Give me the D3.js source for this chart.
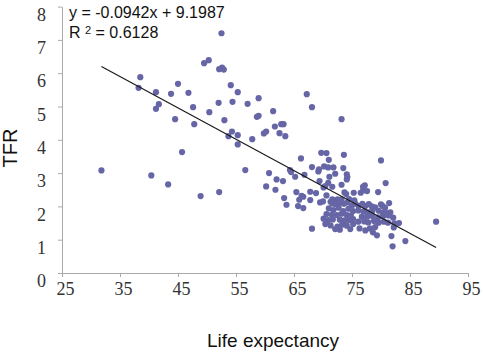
<!DOCTYPE html>
<html>
<head>
<meta charset="utf-8">
<script src="https://cdn.jsdelivr.net/npm/d3@7"></script>
<style>
	body { margin: 0; background: #fff; }
	.tick-label { font-family: "Liberation Serif", "DejaVu Serif", serif; font-size: 18px; fill: #333; }
	.title { font-family: "Liberation Sans", Arial, sans-serif; fill: #111; }
</style>
</head>
<body>
<div id="chart"></div>
<script>
// ---------- DATA ----------
const lifeExpectancy = [
	31.8, 38.2, 38.5, 40.4, 41.2, 41.2, 41.7, 43.8, 45.0, 44.5,
	43.3, 45.7, 46.8, 47.6, 47.8, 48.9, 49.5, 50.3, 50.4, 52.0,
	52.1, 52.5, 52.1, 52.6, 52.9, 53.0, 54.1, 54.4, 55.3, 54.3,
	53.7, 55.3, 55.3, 56.6, 57.0, 58.9, 58.6, 58.9, 57.8, 59.8,
	60.2, 61.4, 61.7, 62.8, 63.2, 62.5, 63.5, 66.2, 67.2, 68.1,
	73.2, 69.7, 70.6, 73.6, 71.0, 80.0, 68.1, 69.3, 69.2, 70.2,
	70.9, 71.8, 73.5, 64.3, 64.5, 60.7, 66.8, 65.2, 71.1, 72.1,
	74.1, 74.2, 74.1, 62.0, 63.1, 69.4, 70.9, 80.8, 60.2, 61.8,
	65.4, 67.8, 70.1, 70.4, 71.6, 73.2, 76.9, 77.2, 75.3, 76.5,
	76.9, 77.6, 79.5, 68.8, 73.7, 74.0, 66.6, 70.6, 72.5, 73.2,
	63.3, 63.7, 65.9, 66.3, 67.8, 65.7, 66.6, 69.5, 70.0, 71.3,
	71.6, 72.1, 72.9, 73.6, 74.2, 75.0, 75.6, 76.1, 76.8, 77.3,
	77.9, 78.4, 79.0, 80.0, 80.3, 80.7, 81.4, 71.0, 71.8, 72.7,
	73.5, 74.4, 75.2, 76.1, 77.0, 77.8, 78.5, 79.6, 80.3, 81.0,
	81.6, 70.6, 71.5, 72.4, 73.2, 74.1, 74.8, 76.7, 77.6, 78.5,
	79.5, 80.4, 81.3, 82.1, 70.1, 70.9, 71.7, 72.9, 73.7, 74.5,
	75.2, 76.1, 77.1, 77.8, 78.8, 79.6, 80.5, 81.2, 82.3, 83.1,
	70.4, 71.3, 72.5, 73.3, 74.1, 75.2, 68.1, 72.1, 72.9, 74.7,
	76.3, 77.3, 78.1, 79.0, 78.6, 79.3, 81.8, 84.2, 82.0, 89.5,
	82.2, 74.5, 75.4, 71.6
];

const tfr = [
	3.08, 5.56, 5.88, 2.93, 5.43, 4.93, 5.07, 5.38, 5.68, 4.62,
	2.66, 3.63, 5.41, 4.98, 4.47, 2.31, 6.30, 6.39, 4.83, 5.11,
	2.43, 7.20, 6.12, 6.17, 6.11, 4.59, 5.64, 5.14, 5.43, 4.25,
	4.11, 4.14, 3.86, 3.09, 5.08, 5.25, 4.69, 4.72, 4.02, 4.19,
	4.25, 4.86, 4.40, 4.47, 4.47, 4.20, 4.11, 3.44, 5.37, 4.98,
	4.62, 3.61, 3.60, 3.55, 3.40, 3.38, 3.18, 3.11, 3.05, 3.20,
	3.17, 3.17, 3.15, 3.09, 3.03, 3.00, 2.95, 2.89, 2.89, 2.98,
	2.96, 2.88, 2.81, 2.81, 2.76, 2.76, 2.71, 2.70, 2.60, 2.50,
	2.43, 2.44, 2.57, 2.61, 2.59, 2.65, 2.59, 2.63, 2.41, 2.41,
	2.48, 2.46, 2.43, 2.40, 2.42, 2.37, 2.29, 2.33, 2.21, 2.21,
	2.25, 2.05, 2.20, 2.32, 2.19, 2.01, 1.95, 2.12, 2.15, 2.14,
	2.09, 2.07, 2.11, 2.08, 2.12, 2.03, 2.08, 2.02, 2.08, 2.01,
	2.07, 2.00, 1.97, 2.06, 2.01, 1.96, 2.10, 1.94, 1.89, 1.96,
	1.86, 1.93, 1.86, 1.88, 1.85, 1.82, 1.86, 1.87, 1.81, 1.80,
	1.82, 1.77, 1.75, 1.74, 1.78, 1.74, 1.73, 1.69, 1.69, 1.71,
	1.67, 1.71, 1.73, 1.66, 1.63, 1.59, 1.61, 1.60, 1.58, 1.59,
	1.62, 1.54, 1.55, 1.52, 1.56, 1.51, 1.54, 1.51, 1.49, 1.50,
	1.47, 1.43, 1.39, 1.45, 1.42, 1.47, 1.33, 1.32, 1.30, 1.32,
	1.34, 1.28, 1.34, 1.38, 1.22, 1.13, 1.11, 0.96, 0.80, 1.54,
	1.37, 2.22, 2.18, 2.21
];

const xTicks = [25, 35, 45, 55, 65, 75, 85, 95];
const yTicks = [0, 1, 2, 3, 4, 5, 6, 7, 8];
const slope = -0.0942;
const intercept = 9.1987;
const rSquared = "0.6128";

// ---------- CHART ----------
const width = 483;
const height = 354;
const margin = { top: 6.6, right: 15, bottom: 81, left: 62 };

const points = lifeExpectancy.map((d, i) => ({ x: d, y: tfr[i] }));

const svg = d3
	.select("#chart")
	.append("svg")
	.attr("width", width)
	.attr("height", height);

const xScale = d3
	.scaleLinear()
	.domain([25, 95])
	.range([margin.left, width - margin.right]);

const yScale = d3
	.scaleLinear()
	.domain([0, 8])
	.range([height - margin.bottom, margin.top]);

// axes
const xAxis = svg
	.append("g")
	.attr("transform", `translate(0, ${yScale(0)})`)
	.call(d3.axisBottom(xScale).tickValues(xTicks).tickSize(4).tickSizeOuter(0));
xAxis.select(".domain").attr("stroke", "#aaa");
xAxis.selectAll(".tick line").attr("stroke", "#aaa");
xAxis
	.selectAll(".tick text")
	.attr("class", "tick-label")
	.attr("dx", 3)
	.attr("y", 9);

const yAxis = svg
	.append("g")
	.attr("transform", `translate(${margin.left}, 0)`)
	.call(d3.axisLeft(yScale).tickValues(yTicks).tickSize(4).tickSizeOuter(0));
yAxis.select(".domain").attr("stroke", "#aaa");
yAxis.selectAll(".tick line").attr("stroke", "#aaa");
yAxis
	.selectAll(".tick text")
	.attr("class", "tick-label")
	.attr("x", -16)
	.attr("dy", "0.32em")
	.attr("y", 8);

// points
svg
	.append("g")
	.selectAll("circle")
	.data(points)
	.join("circle")
	.attr("cx", (d) => xScale(d.x))
	.attr("cy", (d) => yScale(d.y))
	.attr("r", 3.1)
	.attr("fill", "#6666a6");

// trend line
const xExtent = d3.extent(lifeExpectancy);
const trend = xExtent.map((x) => ({ x: x, y: slope * x + intercept }));
svg
	.append("path")
	.datum(trend)
	.attr("fill", "none")
	.attr("stroke", "#1a1a1a")
	.attr("stroke-width", 1.2)
	.attr(
		"d",
		d3
			.line()
			.x((d) => xScale(d.x))
			.y((d) => yScale(d.y))
	);

// equation
const eq = svg.append("g").attr("class", "title").style("font-size", "16px");
eq.append("text").attr("x", 69).attr("y", 18).text(`y = ${slope}x + ${intercept}`);
const r2 = eq.append("text").attr("x", 69).attr("y", 38);
r2.append("tspan").text("R ");
r2.append("tspan").attr("dy", -4).style("font-size", "11px").text("2");
r2.append("tspan").attr("dy", 4).text(` = ${rSquared}`);

// axis titles
svg
	.append("text")
	.attr("class", "title")
	.attr("x", 273)
	.attr("y", 347)
	.attr("text-anchor", "middle")
	.style("font-size", "19px")
	.text("Life expectancy");

svg
	.append("text")
	.attr("class", "title")
	.attr("transform", "translate(17, 148) rotate(-90)")
	.attr("text-anchor", "middle")
	.style("font-size", "20px")
	.text("TFR");
</script>
</body>
</html>
